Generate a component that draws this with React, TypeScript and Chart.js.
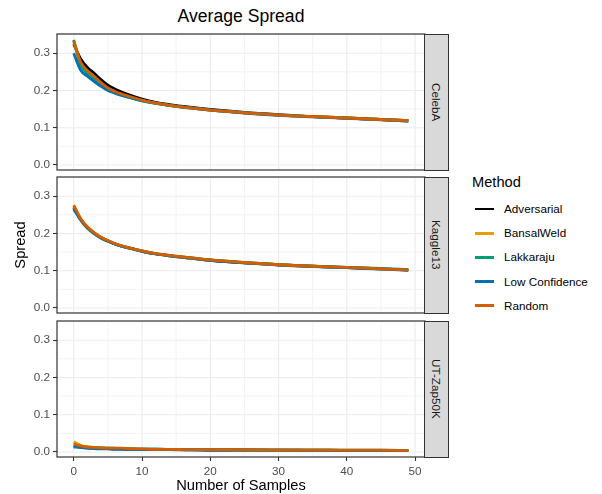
import React, { useEffect, useRef } from "react";
import { Chart, registerables } from "chart.js";

Chart.register(...registerables);

// ---------- data ----------
const SAMPLES = [0, 1, 2, 3, 4, 5, 6, 7, 8, 10, 12, 14, 17, 20, 25, 30, 35, 40, 45, 49];
const METHODS = ["Adversarial", "BansalWeld", "Lakkaraju", "Low Confidence", "Random"];
const COLORS = ["#000000", "#E69F00", "#009E73", "#0072B2", "#D55E00"];
const DATASET_NAMES = ["CelebA", "Kaggle13", "UT-Zap50K"];

const celebaAdversarial = [0.325, 0.285, 0.262, 0.246, 0.229, 0.214, 0.204, 0.196, 0.189, 0.177, 0.168, 0.162, 0.155, 0.149, 0.141, 0.135, 0.130, 0.126, 0.122, 0.119];
const celebaBansalWeld = [0.333, 0.272, 0.248, 0.232, 0.217, 0.204, 0.196, 0.189, 0.183, 0.173, 0.166, 0.160, 0.153, 0.147, 0.140, 0.134, 0.130, 0.126, 0.122, 0.118];
const celebaLakkaraju = [0.336, 0.270, 0.245, 0.229, 0.214, 0.202, 0.194, 0.188, 0.182, 0.172, 0.165, 0.159, 0.153, 0.147, 0.140, 0.134, 0.130, 0.126, 0.122, 0.118];
const celebaLowConfidence = [0.300, 0.255, 0.238, 0.224, 0.211, 0.200, 0.193, 0.187, 0.182, 0.173, 0.166, 0.160, 0.153, 0.147, 0.139, 0.133, 0.129, 0.125, 0.121, 0.118];
const celebaRandom = [0.332, 0.277, 0.253, 0.238, 0.221, 0.207, 0.198, 0.191, 0.185, 0.174, 0.166, 0.160, 0.153, 0.147, 0.140, 0.134, 0.130, 0.126, 0.122, 0.119];

const kaggleAdversarial = [0.268, 0.238, 0.216, 0.201, 0.189, 0.180, 0.172, 0.166, 0.161, 0.152, 0.145, 0.140, 0.134, 0.128, 0.121, 0.116, 0.112, 0.108, 0.105, 0.102];
const kaggleBansalWeld = [0.272, 0.236, 0.213, 0.199, 0.187, 0.179, 0.172, 0.166, 0.161, 0.153, 0.146, 0.141, 0.134, 0.129, 0.122, 0.116, 0.112, 0.109, 0.105, 0.102];
const kaggleLakkaraju = [0.270, 0.238, 0.215, 0.200, 0.188, 0.180, 0.173, 0.167, 0.162, 0.153, 0.146, 0.141, 0.135, 0.129, 0.122, 0.116, 0.112, 0.109, 0.106, 0.103];
const kaggleLowConfidence = [0.265, 0.237, 0.215, 0.200, 0.188, 0.179, 0.172, 0.166, 0.161, 0.152, 0.145, 0.140, 0.134, 0.128, 0.121, 0.115, 0.111, 0.108, 0.104, 0.101];
const kaggleRandom = [0.276, 0.241, 0.218, 0.202, 0.190, 0.181, 0.173, 0.167, 0.162, 0.153, 0.146, 0.141, 0.135, 0.129, 0.122, 0.116, 0.112, 0.109, 0.105, 0.102];

const zapAdversarial = [0.016, 0.013, 0.011, 0.010, 0.009, 0.009, 0.008, 0.008, 0.007, 0.007, 0.006, 0.006, 0.006, 0.005, 0.005, 0.005, 0.005, 0.004, 0.004, 0.004];
const zapBansalWeld = [0.027, 0.018, 0.014, 0.012, 0.011, 0.010, 0.009, 0.008, 0.008, 0.007, 0.007, 0.006, 0.006, 0.006, 0.005, 0.005, 0.005, 0.004, 0.004, 0.004];
const zapLakkaraju = [0.018, 0.015, 0.013, 0.012, 0.011, 0.010, 0.010, 0.009, 0.009, 0.008, 0.008, 0.007, 0.007, 0.006, 0.006, 0.005, 0.005, 0.005, 0.005, 0.004];
const zapLowConfidence = [0.013, 0.012, 0.010, 0.009, 0.008, 0.008, 0.007, 0.007, 0.007, 0.006, 0.006, 0.006, 0.005, 0.005, 0.005, 0.005, 0.004, 0.004, 0.004, 0.004];
const zapRandom = [0.021, 0.016, 0.013, 0.012, 0.011, 0.010, 0.010, 0.010, 0.009, 0.008, 0.007, 0.007, 0.006, 0.006, 0.006, 0.005, 0.005, 0.005, 0.005, 0.004];

const PANEL_VALUES = [
  [celebaAdversarial, celebaBansalWeld, celebaLakkaraju, celebaLowConfidence, celebaRandom],
  [kaggleAdversarial, kaggleBansalWeld, kaggleLakkaraju, kaggleLowConfidence, kaggleRandom],
  [zapAdversarial, zapBansalWeld, zapLakkaraju, zapLowConfidence, zapRandom],
];

const Y_TICKS = [0, 0.1, 0.2, 0.3];
const Y_MINOR = [0.05, 0.15, 0.25, 0.35];
const X_TICKS = [0, 10, 20, 30, 40, 50];
const X_MINOR = [5, 15, 25, 35, 45];
const X_MIN = -2.45;
const X_MAX = 51.45;
const Y_MIN = -0.0136;
const Y_MAX = 0.3516;

// ---------- layout ----------
const FONT = '"Liberation Sans", Arial, Helvetica, sans-serif';
const PANEL_LEFT = 57;
const PANEL_RIGHT = 425;
const STRIP_RIGHT = 449;
const PANEL_TOPS = [34, 177, 321];
const PANEL_H = 136;
const PAD = 12;
const X_AXIS_H = 26;
const CANVAS_W = 440;

function Panel({ index, showX }: { index: number; showX: boolean }) {
  const ref = useRef<HTMLCanvasElement | null>(null);
  const top = PANEL_TOPS[index];
  const canvasH = PAD + PANEL_H + (showX ? X_AXIS_H : PAD);

  useEffect(() => {
    if (!ref.current) return;
    const values = PANEL_VALUES[index];
    const decor = {
      id: "panelDecor",
      beforeDatasetsDraw(chart: any) {
        const { ctx, chartArea: a, scales } = chart;
        const x = scales.x;
        const y = scales.y;
        ctx.save();
        ctx.fillStyle = "#FFFFFF";
        ctx.fillRect(a.left, a.top, a.right - a.left, a.bottom - a.top);
        ctx.strokeStyle = "#EBEBEB";
        const vline = (v: number) => {
          const px = x.getPixelForValue(v);
          ctx.beginPath();
          ctx.moveTo(px, a.top);
          ctx.lineTo(px, a.bottom);
          ctx.stroke();
        };
        const hline = (v: number) => {
          const py = y.getPixelForValue(v);
          if (py < a.top || py > a.bottom) return;
          ctx.beginPath();
          ctx.moveTo(a.left, py);
          ctx.lineTo(a.right, py);
          ctx.stroke();
        };
        ctx.lineWidth = 0.6;
        X_MINOR.forEach(vline);
        Y_MINOR.forEach(hline);
        ctx.lineWidth = 1.1;
        X_TICKS.forEach(vline);
        Y_TICKS.forEach(hline);
        ctx.restore();
      },
      afterDraw(chart: any) {
        const { ctx, chartArea: a } = chart;
        ctx.save();
        ctx.strokeStyle = "#333333";
        ctx.lineWidth = 1.2;
        ctx.strokeRect(a.left, a.top, a.right - a.left, a.bottom - a.top);
        ctx.restore();
      },
    };

    const chart = new Chart(ref.current, {
      type: "line",
      data: {
        datasets: METHODS.map((m, i) => ({
          label: m,
          data: SAMPLES.map((s, j) => ({ x: s, y: values[i][j] })),
          borderColor: COLORS[i],
          backgroundColor: COLORS[i],
          borderWidth: 2.8,
          pointRadius: 0,
          fill: false,
          cubicInterpolationMode: "monotone" as const,
          order: METHODS.length - i,
          borderCapStyle: "butt" as const,
        })),
      },
      options: {
        responsive: false,
        maintainAspectRatio: false,
        animation: false,
        devicePixelRatio: 1,
        layout: {
          padding: { top: PAD, left: 0, right: CANVAS_W - PANEL_RIGHT, bottom: showX ? 0 : PAD },
        },
        plugins: {
          legend: { display: false },
          tooltip: { enabled: false },
          title: { display: false },
        },
        scales: {
          x: {
            type: "linear",
            min: X_MIN,
            max: X_MAX,
            display: showX,
            afterBuildTicks: (s: any) => {
              s.ticks = X_TICKS.map((v) => ({ value: v }));
            },
            afterFit: (s: any) => {
              s.height = showX ? X_AXIS_H : 0;
            },
            grid: { drawOnChartArea: false, drawTicks: true, tickLength: 4, tickColor: "#333333", tickWidth: 1.1 },
            border: { display: false },
            ticks: {
              font: { family: FONT, size: 11.7 },
              color: "#4D4D4D",
              padding: 4,
              maxRotation: 0,
              autoSkip: false,
              callback: (v: any) => String(v),
            },
          },
          y: {
            type: "linear",
            min: Y_MIN,
            max: Y_MAX,
            afterBuildTicks: (s: any) => {
              s.ticks = Y_TICKS.map((v) => ({ value: v }));
            },
            afterFit: (s: any) => {
              s.width = PANEL_LEFT;
            },
            grid: { drawOnChartArea: false, drawTicks: true, tickLength: 4, tickColor: "#333333", tickWidth: 1.1 },
            border: { display: false },
            ticks: {
              font: { family: FONT, size: 11.7 },
              color: "#4D4D4D",
              padding: 3,
              autoSkip: false,
              callback: (v: any) => Number(v).toFixed(1),
            },
          },
        },
      },
      plugins: [decor],
    } as any);
    return () => chart.destroy();
  }, [index, showX]);

  return (
    <>
      <canvas
        ref={ref}
        width={CANVAS_W}
        height={canvasH}
        style={{ position: "absolute", left: 0, top: top - PAD, width: CANVAS_W, height: canvasH }}
      />
      <div
        style={{
          position: "absolute",
          left: PANEL_RIGHT - 1,
          top: top - 0.5,
          width: STRIP_RIGHT - PANEL_RIGHT + 1,
          height: PANEL_H + 1,
          boxSizing: "border-box",
          background: "#D9D9D9",
          border: "1px solid #333333",
          display: "flex",
          alignItems: "center",
          justifyContent: "center",
        }}
      >
        <span
          style={{
            writingMode: "vertical-rl",
            fontFamily: FONT,
            fontSize: 11.7,
            color: "#1A1A1A",
            whiteSpace: "nowrap",
          }}
        >
          {DATASET_NAMES[index]}
        </span>
      </div>
    </>
  );
}

export default function App() {
  return (
    <div
      style={{
        position: "absolute",
        left: 0,
        top: 0,
        width: 602,
        height: 494,
        background: "#FFFFFF",
        overflow: "hidden",
        fontFamily: FONT,
      }}
    >
      <div
        style={{
          position: "absolute",
          left: PANEL_LEFT,
          width: PANEL_RIGHT - PANEL_LEFT,
          top: 5,
          textAlign: "center",
          fontSize: 17.6,
          lineHeight: "22px",
          color: "#000",
        }}
      >
        Average Spread
      </div>
      {PANEL_TOPS.map((_, i) => (
        <Panel key={i} index={i} showX={i === PANEL_TOPS.length - 1} />
      ))}
      <div
        style={{
          position: "absolute",
          left: PANEL_LEFT,
          width: PANEL_RIGHT - PANEL_LEFT,
          top: 477,
          textAlign: "center",
          fontSize: 14.67,
          lineHeight: "17px",
          color: "#000",
        }}
      >
        Number of Samples
      </div>
      <div
        style={{
          position: "absolute",
          left: -60,
          top: 237,
          width: 160,
          height: 16,
          textAlign: "center",
          fontSize: 14.67,
          lineHeight: "16px",
          fontWeight: 400,
          color: "#000",
          transform: "rotate(-90deg)",
        }}
      >
        Spread
      </div>
      <div
        style={{
          position: "absolute",
          left: 472,
          top: 174,
          fontSize: 14.67,
          lineHeight: "17px",
          color: "#000",
        }}
      >
        Method
      </div>
      {METHODS.map((m, i) => (
        <div key={m}>
          <div
            style={{
              position: "absolute",
              left: 475,
              top: 209 + i * 24.2 - 1.4,
              width: 19,
              height: 2.8,
              background: COLORS[i],
            }}
          />
          <div
            style={{
              position: "absolute",
              left: 504,
              top: 209 + i * 24.2 - 7,
              fontSize: 11.7,
              lineHeight: "14px",
              color: "#000",
              whiteSpace: "nowrap",
            }}
          >
            {m}
          </div>
        </div>
      ))}
    </div>
  );
}
